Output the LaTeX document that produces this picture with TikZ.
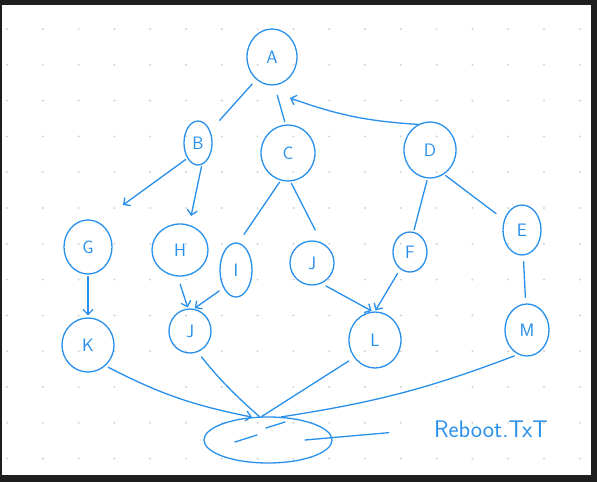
\documentclass[tikz,border=0pt]{standalone}
\usetikzlibrary{shapes.geometric,arrows.meta}
\definecolor{sketch}{RGB}{40,144,235}
\definecolor{frame}{RGB}{30,30,30}
\definecolor{dotgrey}{RGB}{210,210,210}
\tikzset{
  vert/.style={draw=sketch, line width=1.3pt, ellipse, inner sep=0pt,
    text=sketch, font=\sffamily\fontsize{18}{18}\selectfont},
  link/.style={draw=sketch, line width=1.3pt, line cap=round},
  barb/.style={-{Straight Barb[length=5pt,width=10pt]}}
}
\begin{document}
\begin{tikzpicture}[x=1pt, y=-1pt]
        \useasboundingbox (0, 0) rectangle (597, 482);
        \fill[frame] (0, 0) rectangle (597, 482);
        \fill[white] (2, 5) rectangle (591, 475);
        \foreach \i in {0,...,16}
          \foreach \j in {0,...,12}
            \fill[dotgrey] (7+35.8*\i, 29+35.8*\j) circle (1.1);
        % vertices
        \node[vert, minimum width=50, minimum height=56] (A) at (272, 57) {A};
        \node[vert, minimum width=28, minimum height=44] (B) at (198, 143) {B};
        \node[vert, minimum width=54, minimum height=56] (C) at (288, 153) {C};
        \node[vert, minimum width=52, minimum height=56] (D) at (430, 150) {D};
        \node[vert, minimum width=48, minimum height=54] (G) at (88, 247) {G};
        \node[vert, minimum width=56, minimum height=52] (H) at (180, 250) {H};
        \node[vert, minimum width=32, minimum height=54] (I) at (236, 270) {I};
        \node[vert, minimum width=44, minimum height=44] (J) at (312, 263) {J};
        \node[vert, minimum width=34, minimum height=40] (F) at (410, 252) {F};
        \node[vert, minimum width=38, minimum height=50] (E) at (522, 230) {E};
        \node[vert, minimum width=52, minimum height=54] (K) at (88, 345) {K};
        \node[vert, minimum width=42, minimum height=44] (J2) at (190, 331) {J};
        \node[vert, minimum width=52, minimum height=56] (L) at (375, 340) {L};
        \node[vert, minimum width=44, minimum height=52] (M) at (527, 330) {M};
        \node[vert, minimum width=128, minimum height=46] (bot) at (268, 440) {};
        \node[text=sketch, font=\sffamily\fontsize{24}{24}\selectfont] (rb) at (491, 429) {Reboot.TxT};
        \coordinate (gB) at (123, 205);
        \coordinate (aD) at (290, 98);
        % edges
        \draw[link, shorten <=6, shorten >=14] (A.235) -- (B.45);
        \draw[link, shorten <=10, shorten >=3] (A.275) -- (C.95);
        \draw[link, barb] (D.115) to[bend left=8] (aD);
        \draw[link, barb, shorten <=2] (B.235) -- (gB);
        \draw[link, barb, shorten <=2, shorten >=9] (B.280) -- (H.70);
        \draw[link, shorten <=2, shorten >=10] (C.255) -- (I.85);
        \draw[link, shorten <=2, shorten >=14] (C.275) -- (J.65);
        \draw[link, shorten <=2, shorten >=2] (D.265) -- (F.80);
        \draw[link, shorten <=2, shorten >=10] (D.300) -- (E.150);
        \draw[link, barb, shorten <=2, shorten >=2] (G) -- (K);
        \draw[link, barb, shorten <=8, shorten >=1] (H.265) -- (J2.95);
        \draw[link, barb, shorten <=5, shorten >=1] (I.235) -- (J2.80);
        \draw[link, barb, shorten <=5, shorten >=1] (J.295) -- (L.95);
        \draw[link, barb, shorten <=5, shorten >=1] (F.240) -- (L.90);
        \draw[link, shorten <=6, shorten >=6] (E) -- (M);
        \draw[link, barb, shorten <=3] (K.310) to[bend right=8] (bot.125);
        \draw[link, shorten <=6] (J2.290) to[bend right=5] (bot.110);
        \draw[link, shorten <=6] (L.220) -- (bot.105);
        \draw[link, shorten <=4] (M.250) to[bend left=6] (bot.60);
        \draw[link, shorten >=42] ([xshift=37]bot.center) -- (rb.west);
        \draw[link] (235, 442) -- (257, 435);
        \draw[link] (266, 428) -- (285, 422);
        \end{tikzpicture}
\end{document}
